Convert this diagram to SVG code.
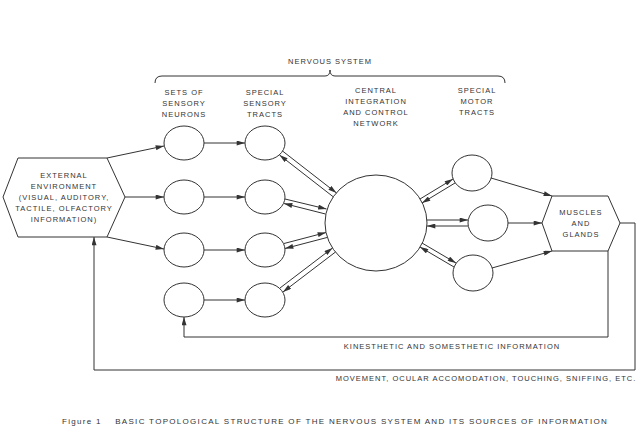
<svg xmlns="http://www.w3.org/2000/svg" width="640" height="443" viewBox="0 0 640 443">
<style>
text{font-family:"Liberation Sans",Arial,sans-serif;font-size:7.5px;letter-spacing:1px;fill:#333;text-anchor:middle}
.n{fill:#fff;stroke:#333;stroke-width:1}
.c line,.c polyline,.c path{stroke:#333;stroke-width:1;fill:none}
</style>
<defs>
<marker id="a" viewBox="0 0 10 6" refX="10" refY="3" markerWidth="9" markerHeight="5" markerUnits="userSpaceOnUse" orient="auto-start-reverse"><path d="M0,0L10,3L0,6z" fill="#333"/></marker>
</defs>
<rect width="640" height="443" fill="#fff"/>
<g id="brace" class="c"><path d="M155,83 Q155,76 162,76 L325,76 Q330,76 330,70 Q330,76 335,76 L498,76 Q505,76 505,83"/></g>
<text x="330" y="64">NERVOUS SYSTEM</text>
<g id="labels">
<text x="184" y="95">SETS OF</text><text x="184" y="106">SENSORY</text><text x="184" y="117">NEURONS</text>
<text x="265" y="95">SPECIAL</text><text x="265" y="106">SENSORY</text><text x="265" y="117">TRACTS</text>
<text x="376" y="93">CENTRAL</text><text x="376" y="104">INTEGRATION</text><text x="376" y="115">AND CONTROL</text><text x="376" y="126">NETWORK</text>
<text x="477" y="93">SPECIAL</text><text x="477" y="104">MOTOR</text><text x="477" y="115">TRACTS</text>
</g>
<g id="env"><polygon class="n" points="3,197 18,158 107,158 125,197 107,237 18,237"/>
<text x="64" y="178">EXTERNAL</text><text x="64" y="189">ENVIRONMENT</text><text x="64" y="200">(VISUAL, AUDITORY,</text><text x="64" y="211">TACTILE, OLFACTORY</text><text x="64" y="222">INFORMATION)</text></g>
<g id="muscles"><polygon class="n" points="542,223 552,196 608,196 620,223 608,251 552,251"/>
<text x="581" y="215">MUSCLES</text><text x="581" y="226">AND</text><text x="581" y="237">GLANDS</text></g>
<g id="sn1"><ellipse class="n" cx="184" cy="143" rx="20" ry="17"/></g>
<g id="sn2"><ellipse class="n" cx="184" cy="197" rx="20" ry="17"/></g>
<g id="sn3"><ellipse class="n" cx="184" cy="250" rx="20" ry="17"/></g>
<g id="sn4"><ellipse class="n" cx="184" cy="300" rx="20" ry="17"/></g>
<g id="st1"><ellipse class="n" cx="265" cy="143" rx="20" ry="17"/></g>
<g id="st2"><ellipse class="n" cx="265" cy="197" rx="20" ry="17"/></g>
<g id="st3"><ellipse class="n" cx="265" cy="250" rx="20" ry="17"/></g>
<g id="st4"><ellipse class="n" cx="265" cy="300" rx="20" ry="17"/></g>
<g id="central"><ellipse class="n" cx="376" cy="223" rx="51" ry="48"/></g>
<g id="mt1"><ellipse class="n" cx="472" cy="173" rx="20" ry="18"/></g>
<g id="mt2"><ellipse class="n" cx="488" cy="223" rx="20" ry="18"/></g>
<g id="mt3"><ellipse class="n" cx="473" cy="273" rx="20" ry="18"/></g>
<g id="connectors" class="c">
<line x1="107" y1="158" x2="164" y2="146" marker-end="url(#a)"/>
<line x1="125" y1="197" x2="164" y2="197" marker-end="url(#a)"/>
<line x1="107" y1="237" x2="164" y2="249" marker-end="url(#a)"/>
<line x1="204" y1="143" x2="245" y2="143" marker-end="url(#a)"/>
<line x1="204" y1="197" x2="245" y2="197" marker-end="url(#a)"/>
<line x1="204" y1="250" x2="245" y2="250" marker-end="url(#a)"/>
<line x1="204" y1="300" x2="245" y2="300" marker-end="url(#a)"/>
<line x1="282.5" y1="151" x2="336.5" y2="193" marker-end="url(#a)"/>
<line x1="279.5" y1="155" x2="333.5" y2="197" marker-start="url(#a)"/>
<line x1="285" y1="199" x2="326.5" y2="209" marker-end="url(#a)"/>
<line x1="284" y1="203.5" x2="325.5" y2="214" marker-start="url(#a)"/>
<line x1="284" y1="243.5" x2="326" y2="232.5" marker-end="url(#a)"/>
<line x1="285" y1="248.5" x2="327" y2="237.5" marker-start="url(#a)"/>
<line x1="280" y1="288" x2="332.5" y2="248" marker-end="url(#a)"/>
<line x1="283" y1="292" x2="335.5" y2="252" marker-start="url(#a)"/>
<line x1="420" y1="199" x2="453" y2="179" marker-end="url(#a)"/>
<line x1="422" y1="203" x2="455" y2="183" marker-start="url(#a)"/>
<line x1="427" y1="220" x2="468" y2="220" marker-end="url(#a)"/>
<line x1="427" y1="226" x2="468" y2="226" marker-start="url(#a)"/>
<line x1="422" y1="243" x2="456" y2="263" marker-end="url(#a)"/>
<line x1="420" y1="247" x2="454" y2="267" marker-start="url(#a)"/>
<line x1="491" y1="178" x2="552" y2="196" marker-end="url(#a)"/>
<line x1="508" y1="223" x2="542" y2="223" marker-end="url(#a)"/>
<line x1="492" y1="268" x2="552" y2="251" marker-end="url(#a)"/>
<polyline points="608,251 608,337 184,337 184,317" marker-end="url(#a)"/>
<polyline points="620,223 635,223 635,370 94,370 94,237" marker-end="url(#a)"/>
</g>
<text x="452" y="349">KINESTHETIC AND SOMESTHETIC INFORMATION</text>
<text x="486" y="381">MOVEMENT, OCULAR ACCOMODATION, TOUCHING, SNIFFING, ETC.</text>
<text x="62" y="424" style="font-size:8px;text-anchor:start;letter-spacing:1.3px">Figure 1</text>
<text x="608" y="424" style="font-size:8px;text-anchor:end;letter-spacing:1.3px">BASIC TOPOLOGICAL STRUCTURE OF THE NERVOUS SYSTEM AND ITS SOURCES OF INFORMATION</text>
</svg>
